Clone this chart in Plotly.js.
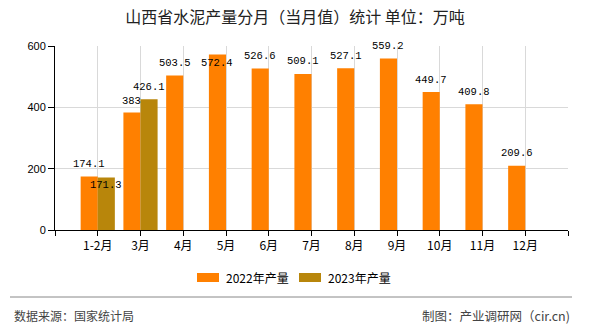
<!DOCTYPE html>
<html>
<head>
<meta charset="utf-8">
<script src="https://cdn.plot.ly/plotly-3.0.1.min.js"></script>
<style>html,body{margin:0;padding:0;background:#fff;}#chart{width:590px;height:330px;}</style>
</head>
<body>
<div id="chart"></div>
<script>
// ---- data ----
const categories = ['1-2月','3月','4月','5月','6月','7月','8月','9月','10月','11月','12月'];
const seriesNames = ['2022年产量','2023年产量'];
const values2022 = [174.1, 383, 503.5, 572.4, 526.6, 509.1, 527.1, 559.2, 449.7, 409.8, 209.6];
const values2023 = [171.3, 426.1, null, null, null, null, null, null, null, null, null];
const yTicks = [0, 200, 400, 600];
const titleText = '山西省水泥产量分月（当月值）统计 单位：万吨';
const sourceText = '数据来源：国家统计局';
const creditText = '制图：产业调研网（cir.cn)';

// ---- styles ----
const colors = ['#FF8000', '#B8860B'];
const L = 55, R = 22, T = 46, B = 100, W = 590 - L - R, H = 330 - T - B;
const px = x => (x - L) / W;          // pixel -> paper x
const py = y => (T + H - y) / H;      // pixel -> paper y
const labelShift = [
  [12.5, 12, 12.5, -9, 12.5, 12.5, 12.5, 12.5, 12.5, 12.5, 12.5],
  [-8, 12.5, 12.5, 12.5, 12.5, 12.5, 12.5, 12.5, 12.5, 12.5, 12.5]
];
const xIdx = categories.map((c, i) => i);
const allSeries = [values2022, values2023];

const traces = allSeries.map((vals, s) => ({
  type: 'bar', name: seriesNames[s], x: xIdx, y: vals,
  marker: {color: colors[s], line: {width: 0}}, hoverinfo: 'none', showlegend: false
}));

const annotations = [];
allSeries.forEach((vals, s) => {
  vals.forEach((v, i) => {
    if (v === null) return;
    annotations.push({
      x: i + (s === 0 ? -0.2 : 0.2), y: v, xref: 'x', yref: 'y',
      text: String(v), showarrow: false, xanchor: 'center', yanchor: 'middle',
      yshift: labelShift[s][i],
      font: {family: 'Liberation Mono, DejaVu Sans Mono, monospace', size: 10.5, color: '#000'}
    });
  });
});

// manual legend
const shapes = [];
const legendX = [[197, 219, 224], [299, 321, 326]];
seriesNames.forEach((n, s) => {
  shapes.push({type: 'rect', xref: 'paper', yref: 'paper',
    x0: px(legendX[s][0]), x1: px(legendX[s][1]), y0: py(273), y1: py(282),
    fillcolor: colors[s], line: {width: 0}});
  annotations.push({xref: 'paper', yref: 'paper', x: px(legendX[s][2]), y: py(277.5),
    xanchor: 'left', yanchor: 'middle', showarrow: false, text: n,
    font: {family: 'Noto Sans CJK SC, sans-serif', size: 12, color: '#000'}});
});
// footer
shapes.push({type: 'line', xref: 'paper', yref: 'paper', x0: px(10), x1: px(572), y0: py(297), y1: py(297),
  line: {color: '#888888', width: 1}});
annotations.push({xref: 'paper', yref: 'paper', x: px(12), y: py(315), xanchor: 'left', yanchor: 'middle',
  showarrow: false, text: sourceText, font: {family: 'Noto Sans CJK SC, sans-serif', size: 12, color: '#444'}});
annotations.push({xref: 'paper', yref: 'paper', x: px(572), y: py(315), xanchor: 'right', yanchor: 'middle',
  showarrow: false, text: creditText, font: {family: 'Noto Sans CJK SC, sans-serif', size: 12.5, color: '#444'}});

const layout = {
  width: 590, height: 330,
  margin: {l: L, r: R, t: T, b: B, pad: 0},
  paper_bgcolor: '#fff', plot_bgcolor: '#fff',
  title: {text: titleText, x: 0.5, xanchor: 'center', xref: 'container',
    y: 1 - 17 / 330, yanchor: 'middle', yref: 'container',
    font: {family: 'Noto Sans CJK SC, sans-serif', size: 16, color: '#222'}},
  barmode: 'group', bargap: 0.2, bargroupgap: 0,
  showlegend: false, hovermode: false,
  xaxis: {
    type: 'linear', range: [-1, 11], fixedrange: true,
    tickmode: 'array', tickvals: [-1].concat(xIdx, [11]), ticktext: [''].concat(categories, ['']),
    showgrid: true, gridcolor: '#d9d9d9', gridwidth: 1, zeroline: false,
    showline: true, linecolor: '#000', linewidth: 1,
    ticks: 'outside', ticklen: 5, tickcolor: '#000',
    tickfont: {family: 'Noto Sans CJK SC, sans-serif', size: 12, color: '#000'}
  },
  yaxis: {
    range: [0, 600], fixedrange: true, tickmode: 'array', tickvals: yTicks,
    showgrid: true, gridcolor: '#d9d9d9', gridwidth: 1, zeroline: false,
    showline: true, linecolor: '#000', linewidth: 1,
    ticks: 'outside', ticklen: 6, tickcolor: '#000',
    tickfont: {family: 'Liberation Sans, Arial, sans-serif', size: 11, color: '#000'}
  },
  shapes: shapes,
  annotations: annotations
};

Plotly.newPlot('chart', traces, layout, {staticPlot: true, displayModeBar: false});
</script>
</body>
</html>
